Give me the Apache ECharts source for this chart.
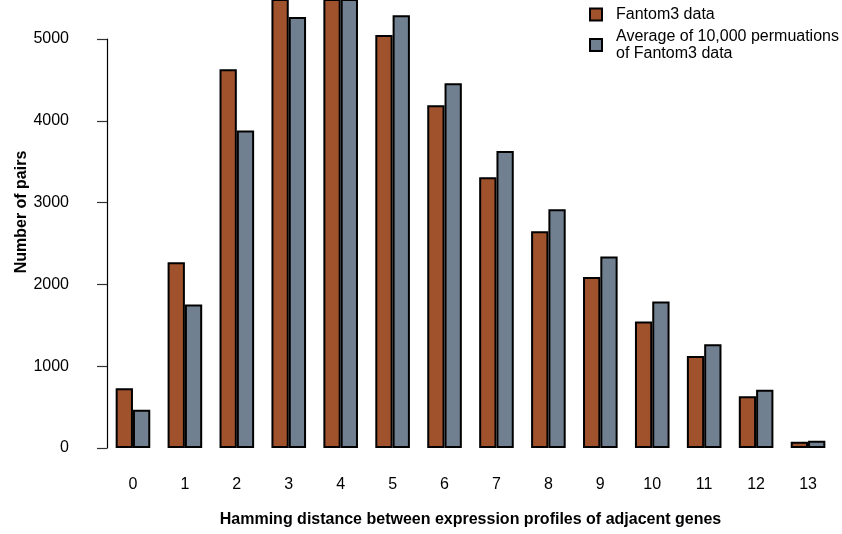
<!DOCTYPE html>
<html>
<head>
<meta charset="utf-8">
<script src="https://cdn.jsdelivr.net/npm/echarts@6/dist/echarts.min.js"></script>
<style>
  html, body { margin: 0; padding: 0; background: #ffffff; }
  #chart { width: 842px; height: 534px; }
</style>
</head>
<body>
<div id="chart"></div>
<script>
// Hamming distance categories (0..13)
const categories = ['0', '1', '2', '3', '4', '5', '6', '7', '8', '9', '10', '11', '12', '13'];

// Observed number of adjacent-gene pairs per Hamming distance
const fantom3Data = [730, 2270, 4630, 5620, 5754, 5050, 4190, 3310, 2650, 2090, 1545, 1125, 632, 77];

// Mean over 10,000 permutations of the same data
const permutationAverage = [468, 1755, 3880, 5270, 5800, 5290, 4460, 3630, 2920, 2340, 1790, 1268, 713, 89];

// Labelled y ticks
const yTicks = [0, 1000, 2000, 3000, 4000, 5000];

const seriesNames = ['Fantom3 data', 'Average of 10,000 permuations\nof Fantom3 data'];
const colors = ['#A0522D', '#708090'];

// Layout: the bar grid fills the page height; bars taller than it run off the top.
const plotBottom = 86;
const axisTop = 39;          // pixel row of the 5000 tick
const plotTop = 0;
const axisMax = yTicks[yTicks.length - 1];
const plotHeight = 534 - plotBottom - plotTop;
const axisHeight = 534 - plotBottom - axisTop;
const plotMax = axisMax * plotHeight / axisHeight;

const font = 'Liberation Sans, Arial, Helvetica, sans-serif';

const chart = echarts.init(document.getElementById('chart'), null, { renderer: 'canvas' });

chart.setOption({
  animation: false,
  backgroundColor: '#ffffff',
  textStyle: { fontFamily: font },
  grid: [
    { left: 107, right: 8, top: plotTop, bottom: plotBottom },
    { left: 107, right: 8, top: axisTop, bottom: plotBottom }
  ],
  legend: {
    orient: 'vertical',
    left: 584,
    top: 1,
    itemWidth: 12,
    itemHeight: 12,
    itemGap: 5,
    icon: 'rect',
    textStyle: { fontFamily: font, fontSize: 16, color: '#000', lineHeight: 17, padding: [0, 0, 0, 9] },
    data: seriesNames
  },
  xAxis: [
    {
      type: 'category',
      gridIndex: 0,
      data: categories,
      axisLine: { show: false },
      axisTick: { show: false },
      axisLabel: { fontFamily: font, fontSize: 16, color: '#000', margin: 29 },
      name: 'Hamming distance between expression profiles of adjacent genes',
      nameLocation: 'middle',
      nameGap: 64,
      nameTextStyle: { fontFamily: font, fontSize: 16, fontWeight: 'bold', color: '#000' }
    },
    { type: 'value', gridIndex: 1, show: false }
  ],
  yAxis: [
    {
      type: 'value',
      gridIndex: 0,
      min: 0,
      max: plotMax,
      axisLine: { show: false },
      axisTick: { show: false },
      axisLabel: { show: false },
      splitLine: { show: false },
      name: 'Number of pairs',
      nameLocation: 'middle',
      nameGap: 77,
      nameTextStyle: { fontFamily: font, fontSize: 16, fontWeight: 'bold', color: '#000', padding: [0, 0, 0, 24] }
    },
    {
      type: 'value',
      gridIndex: 1,
      min: yTicks[0],
      max: axisMax,
      interval: yTicks[1] - yTicks[0],
      offset: 19,
      axisLine: { show: true, lineStyle: { color: '#000', width: 1.2 } },
      axisTick: { show: true, inside: false, length: 10, lineStyle: { color: '#333', width: 1.2 } },
      axisLabel: { fontFamily: font, fontSize: 16, color: '#000', margin: 19, formatter: v => String(v) },
      splitLine: { show: false }
    }
  ],
  series: [
    {
      name: seriesNames[0],
      type: 'bar',
      xAxisIndex: 0,
      yAxisIndex: 0,
      data: fantom3Data,
      barWidth: 17.3,
      barGap: '0%',
      itemStyle: { color: colors[0], borderColor: '#000', borderWidth: 2 }
    },
    {
      name: seriesNames[1],
      type: 'bar',
      xAxisIndex: 0,
      yAxisIndex: 0,
      data: permutationAverage,
      barWidth: 17.3,
      barGap: '0%',
      itemStyle: { color: colors[1], borderColor: '#000', borderWidth: 2 }
    }
  ]
});
</script>
</body>
</html>
